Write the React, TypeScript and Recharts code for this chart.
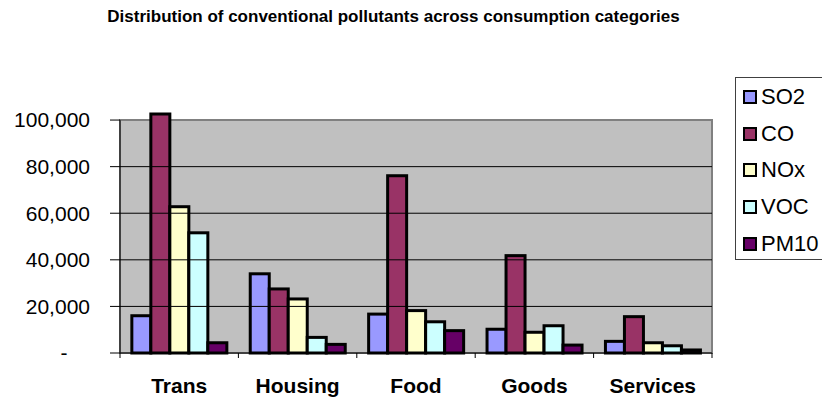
import React from "react";
import {
  BarChart,
  Bar,
  XAxis,
  YAxis,
  ReferenceArea,
  ReferenceLine,
} from "recharts";

const categories = ["Trans", "Housing", "Food", "Goods", "Services"];
const so2 = [16000, 34000, 16700, 10200, 5000];
const co = [102600, 27500, 76100, 41800, 15600];
const nox = [62800, 23200, 18200, 8900, 4400];
const voc = [51600, 6700, 13400, 11700, 3100];
const pm10 = [4400, 3700, 9600, 3400, 1300];
const yTicks = [0, 20000, 40000, 60000, 80000, 100000];

const series = [
  { key: "SO2", values: so2, color: "#9999ff" },
  { key: "CO", values: co, color: "#993366" },
  { key: "NOx", values: nox, color: "#ffffcc" },
  { key: "VOC", values: voc, color: "#ccffff" },
  { key: "PM10", values: pm10, color: "#660066" },
];

const data = categories.map((name, i) => {
  const row: Record<string, string | number> = { name };
  series.forEach((s) => (row[s.key] = s.values[i]));
  return row;
});

const FONT = '"Liberation Sans", Arial, sans-serif';

const YTick = (props: any) => {
  const { x, y, payload } = props;
  if (payload.value === 0) {
    return (
      <text x={x - 26} y={y} dy="0.35em" textAnchor="middle" fontFamily={FONT} fontSize={21} fill="#000">
        -
      </text>
    );
  }
  return (
    <text x={x} y={y} dy="0.35em" textAnchor="end" fontFamily={FONT} fontSize={21} fill="#000">
      {payload.value.toLocaleString("en-US")}
    </text>
  );
};

const XTick = (props: any) => {
  const { x, y, payload, index } = props;
  const half = payload.offset || 0;
  return (
    <g>
      <line x1={x - half} y1={y} x2={x - half} y2={y + 5} stroke="#000" />
      {index === categories.length - 1 && (
        <line x1={x + half} y1={y} x2={x + half} y2={y + 5} stroke="#000" />
      )}
      <text x={x} y={y + 40} textAnchor="middle" fontFamily={FONT} fontSize={21} fontWeight="bold" fill="#000">
        {payload.value}
      </text>
    </g>
  );
};

const BarShape = (props: any) => {
  const { x, y, width, height, fill } = props;
  if (!height) return null;
  return <rect x={x} y={y} width={width} height={height} fill={fill} stroke="#000" strokeWidth={3} />;
};

export default function App() {
  return (
    <div style={{ position: "fixed", left: 0, top: 0, width: 822, height: 399, background: "#fff" }}>
      <div
        style={{
          position: "absolute",
          left: 0,
          width: 787,
          top: 7,
          textAlign: "center",
          fontFamily: FONT,
          fontWeight: "bold",
          fontSize: 17,
          color: "#000",
        }}
      >
        Distribution of conventional pollutants across consumption categories
      </div>
      <BarChart
        width={822}
        height={399}
        data={data}
        margin={{ top: 114, right: 110, bottom: 16, left: 0 }}
        barGap={0}
        barCategoryGap="10%"
      >
        <ReferenceArea
          y1={0}
          y2={100000}
          fill="#c0c0c0"
          fillOpacity={1}
          stroke="#808080"
          strokeWidth={2}
        />
        {yTicks.slice(1, -1).map((t) => (
          <ReferenceLine key={t} y={t} stroke="#000" strokeWidth={1} />
        ))}
        <ReferenceLine
          segment={[
            { x: categories[0], y: 0 },
            { x: categories[0], y: 100000 },
          ]}
          position="start"
          stroke="#000"
          strokeWidth={1}
        />
        <XAxis
          dataKey="name"
          height={30}
          axisLine={{ stroke: "#000" }}
          tickLine={false}
          tickSize={0}
          tickMargin={0}
          tick={<XTick />}
          interval={0}
        />
        <YAxis
          width={120}
          domain={[0, 102600]}
          ticks={yTicks}
          axisLine={false}
          tickLine={{ stroke: "#000" }}
          tickSize={10}
          tickMargin={20}
          tick={<YTick />}
        />
        {series.map((s) => (
          <Bar
            key={s.key}
            dataKey={s.key}
            fill={s.color}
            shape={<BarShape />}
            isAnimationActive={false}
          />
        ))}
      </BarChart>
      <div
        style={{
          position: "absolute",
          left: 735,
          top: 77,
          width: 100,
          height: 181,
          border: "1px solid #404040",
          background: "#fff",
          fontFamily: FONT,
          fontSize: 22,
          color: "#000",
        }}
      >
        {series.map((s, i) => (
          <div
            key={s.key}
            style={{
              position: "absolute",
              left: 7,
              top: 6 + i * 36.7,
              height: 26,
              display: "flex",
              alignItems: "center",
              whiteSpace: "nowrap",
            }}
          >
            <span
              style={{
                display: "inline-block",
                width: 10,
                height: 10,
                border: "2.5px solid #000",
                background: s.color,
                marginRight: 4,
              }}
            />
            <span>{s.key}</span>
          </div>
        ))}
      </div>
    </div>
  );
}
